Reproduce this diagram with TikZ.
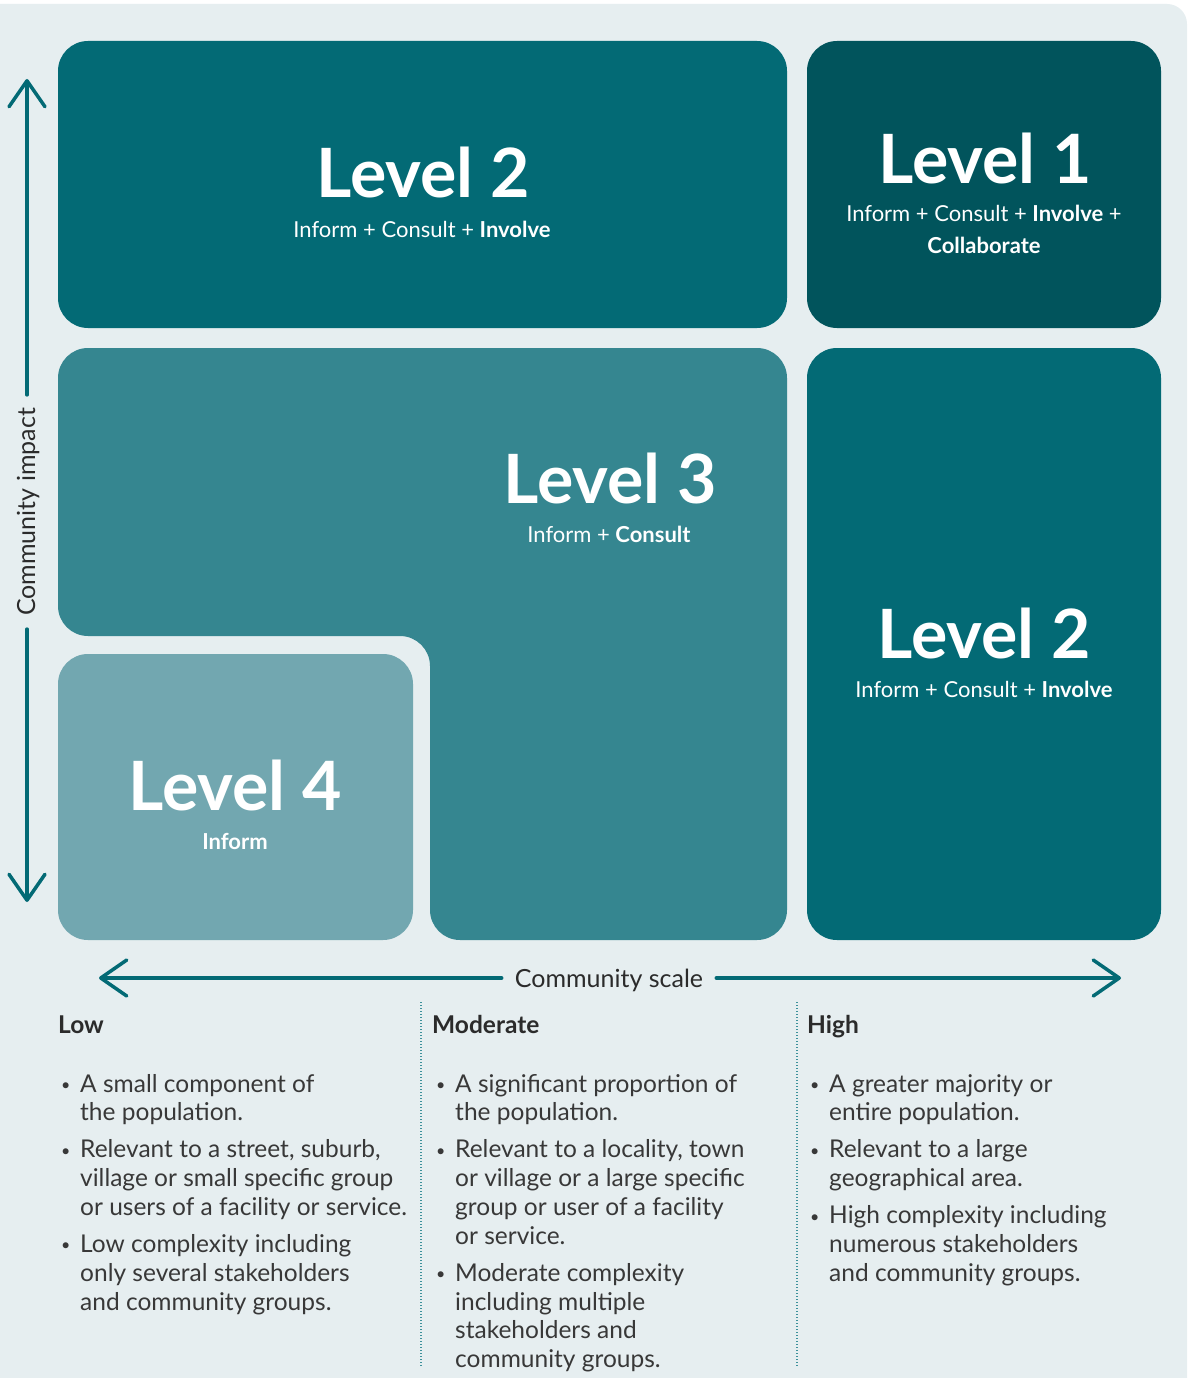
\documentclass[tikz,border=0pt]{standalone}
\usepackage{fontspec}
\setmainfont{Lato}
\usetikzlibrary{arrows.meta}
\definecolor{bgc}{HTML}{E6EEF0}
\definecolor{lvone}{HTML}{01545C}
\definecolor{lvtwo}{HTML}{036A75}
\definecolor{lvthree}{HTML}{358690}
\definecolor{lvfour}{HTML}{72A7B0}
\definecolor{ink}{HTML}{2B2B2B}
\definecolor{bodyink}{HTML}{383838}
\definecolor{dotc}{HTML}{3E919B}
\newcommand{\bul}{\leavevmode\llap{\makebox[19pt][l]{\raisebox{1.5pt}{\fontsize{16}{16}\selectfont•}}}}
\newcommand{\colbody}[1]{\parbox[t]{360pt}{\fontsize{24.5}{28.8}\selectfont\parindent=0pt\parskip=0pt #1}}
\newcommand{\gap}{\par\vspace{8.2pt}}
\tikzset{
  panel/.style={rounded corners=30},
  heading/.style={text=white, font=\fontsize{68}{72}\selectfont\bfseries, anchor=base, inner sep=0pt},
  sub/.style={text=white, font=\fontsize{22}{26}\selectfont, anchor=base, inner sep=0pt},
  axislabel/.style={text=ink, font=\fontsize{25}{28}\selectfont, inner xsep=13pt, inner ysep=0pt},
  axisarrow/.style={draw=lvtwo, line width=3.5pt, line cap=round, -{Straight Barb[length=26pt,width=36pt,round]}},
  colhead/.style={text=ink, font=\fontsize{24.5}{26}\selectfont\bfseries, anchor=base west, inner sep=0pt},
  colbodynode/.style={text=bodyink, anchor=base west, inner sep=0pt},
  sepline/.style={draw=dotc, line width=1.4pt, dash pattern=on 1.4pt off 1.6pt}
}
\begin{document}
\begin{tikzpicture}[x=1pt,y=-1pt]
\useasboundingbox (0,0) rectangle (1187,1378);
\fill[white] (0,0) rectangle (1187,1378);
\fill[bgc, rounded corners=20] (-40,4) rectangle (1187,1430);

% panels
\fill[lvtwo, panel] (58,41) rectangle (787,328);
\fill[lvone, panel] (807,41) rectangle (1161,328);
\fill[lvthree, panel] (58,348) -- (787,348) -- (787,940) -- (430,940) -- (430,636) -- (58,636) -- cycle;
\fill[lvfour, panel] (58,654) rectangle (413,940);
\fill[lvtwo, panel] (807,348) rectangle (1161,940);

% panel texts
\node[heading] (l2ah) at (423,197) {Level 2};
\node[sub] (l2as) at (422,237) {Inform + Consult + \textbf{Involve}};
\node[heading] (l1h) at (985,183) {Level 1};
\node[sub] (l1s) at (984,221) {Inform + Consult + \textbf{Involve} +};
\node[sub] (l1t) at (984,253) {\textbf{Collaborate}};
\node[heading] (l3h) at (610,503) {Level 3};
\node[sub] (l3s) at (609,542) {Inform + \textbf{Consult}};
\node[heading] (l2bh) at (984,658) {Level 2};
\node[sub] (l2bs) at (984,697) {Inform + Consult + \textbf{Involve}};
\node[heading] (l4h) at (235,810) {Level 4};
\node[sub] (l4s) at (235,849) {\textbf{Inform}};

% vertical axis
\node[axislabel, rotate=90, anchor=base] (impact) at (35,512) {Community impact};
\coordinate (imptop) at (27,79);
\coordinate (impbot) at (27,902);
\draw[axisarrow] (imptop |- impact.east) -- (imptop);
\draw[axisarrow] (impbot |- impact.west) -- (impbot);

% horizontal axis
\node[axislabel, anchor=base] (scale) at (609,987) {Community scale};
\coordinate (scleft) at (99,978);
\coordinate (scright) at (1121,978);
\draw[axisarrow] (scale.west |- scleft) -- (scleft);
\draw[axisarrow] (scale.east |- scright) -- (scright);

% separators
\coordinate (sepatop) at (421,1002);
\coordinate (sepabot) at (421,1366);
\coordinate (sepbtop) at (797,1002);
\coordinate (sepbbot) at (797,1366);
\draw[sepline] (sepatop) -- (sepabot);
\draw[sepline] (sepbtop) -- (sepbbot);

% columns
\node[colhead] (lowh) at (58,1033) {Low};
\node[colhead] (modh) at (432,1033) {Moderate};
\node[colhead] (highh) at (807,1033) {High};

\node[colbodynode] (lowb) at (80,1092) {\colbody{%
\bul A small component of\\the population.\gap
\bul Relevant to a street, suburb,\\village or small specific group\\or users of a facility or service.\gap
\bul Low complexity including\\only several stakeholders\\and community groups.}};
\node[colbodynode] (modb) at (455,1092) {\colbody{%
\bul A significant proportion of\\the population.\gap
\bul Relevant to a locality, town\\or village or a large specific\\group or user of a facility\\or service.\gap
\bul Moderate complexity\\including multiple\\stakeholders and\\community groups.}};
\node[colbodynode] (highb) at (829,1092) {\colbody{%
\bul A greater majority or\\entire population.\gap
\bul Relevant to a large\\geographical area.\gap
\bul High complexity including\\numerous stakeholders\\and community groups.}};
\end{tikzpicture}
\end{document}
